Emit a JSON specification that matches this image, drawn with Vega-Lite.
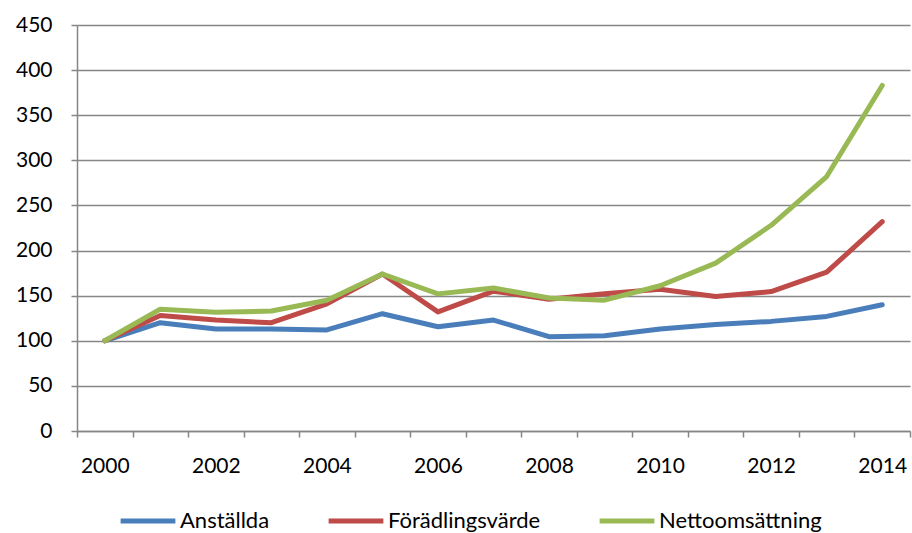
{
  "$schema": "https://vega.github.io/schema/vega-lite/v6.json",
  "width": 833,
  "height": 406,
  "autosize": {"type": "none"},
  "padding": {"left": 77, "top": 25, "right": 2, "bottom": 102},
  "background": "white",
  "data": {
    "values": [
      {"year": 2000, "series": "Anställda", "value": 100},
      {"year": 2001, "series": "Anställda", "value": 120},
      {"year": 2002, "series": "Anställda", "value": 113},
      {"year": 2003, "series": "Anställda", "value": 113},
      {"year": 2004, "series": "Anställda", "value": 112},
      {"year": 2005, "series": "Anställda", "value": 130},
      {"year": 2006, "series": "Anställda", "value": 115.5},
      {"year": 2007, "series": "Anställda", "value": 123},
      {"year": 2008, "series": "Anställda", "value": 104.5},
      {"year": 2009, "series": "Anställda", "value": 105.5},
      {"year": 2010, "series": "Anställda", "value": 113},
      {"year": 2011, "series": "Anställda", "value": 118},
      {"year": 2012, "series": "Anställda", "value": 121.5},
      {"year": 2013, "series": "Anställda", "value": 127},
      {"year": 2014, "series": "Anställda", "value": 140},
      {"year": 2000, "series": "Förädlingsvärde", "value": 100},
      {"year": 2001, "series": "Förädlingsvärde", "value": 128},
      {"year": 2002, "series": "Förädlingsvärde", "value": 123},
      {"year": 2003, "series": "Förädlingsvärde", "value": 120},
      {"year": 2004, "series": "Förädlingsvärde", "value": 141},
      {"year": 2005, "series": "Förädlingsvärde", "value": 174},
      {"year": 2006, "series": "Förädlingsvärde", "value": 132},
      {"year": 2007, "series": "Förädlingsvärde", "value": 155},
      {"year": 2008, "series": "Förädlingsvärde", "value": 146},
      {"year": 2009, "series": "Förädlingsvärde", "value": 152},
      {"year": 2010, "series": "Förädlingsvärde", "value": 157},
      {"year": 2011, "series": "Förädlingsvärde", "value": 149},
      {"year": 2012, "series": "Förädlingsvärde", "value": 154.5},
      {"year": 2013, "series": "Förädlingsvärde", "value": 176},
      {"year": 2014, "series": "Förädlingsvärde", "value": 232},
      {"year": 2000, "series": "Nettoomsättning", "value": 100},
      {"year": 2001, "series": "Nettoomsättning", "value": 135},
      {"year": 2002, "series": "Nettoomsättning", "value": 131.5},
      {"year": 2003, "series": "Nettoomsättning", "value": 133},
      {"year": 2004, "series": "Nettoomsättning", "value": 145},
      {"year": 2005, "series": "Nettoomsättning", "value": 174},
      {"year": 2006, "series": "Nettoomsättning", "value": 152},
      {"year": 2007, "series": "Nettoomsättning", "value": 158.5},
      {"year": 2008, "series": "Nettoomsättning", "value": 147.5},
      {"year": 2009, "series": "Nettoomsättning", "value": 145},
      {"year": 2010, "series": "Nettoomsättning", "value": 161},
      {"year": 2011, "series": "Nettoomsättning", "value": 186},
      {"year": 2012, "series": "Nettoomsättning", "value": 228},
      {"year": 2013, "series": "Nettoomsättning", "value": 282},
      {"year": 2014, "series": "Nettoomsättning", "value": 383}
    ]
  },
  "mark": {"type": "line", "strokeWidth": 5, "strokeCap": "round", "strokeJoin": "round"},
  "encoding": {
    "x": {
      "field": "year",
      "type": "ordinal",
      "scale": {"type": "band", "paddingInner": 0, "paddingOuter": 0},
      "axis": {
        "title": null,
        "labelAngle": 0,
        "tickBand": "extent",
        "labelExpr": "datum.value % 2 == 0 ? datum.label : ''",
        "grid": false,
        "domainColor": "#868686",
        "domainWidth": 1.5,
        "tickColor": "#868686",
        "tickWidth": 1.5,
        "tickSize": 6,
        "labelPadding": 18,
        "labelFont": "Lato",
        "labelFontSize": 21,
        "labelColor": "#000000"
      }
    },
    "y": {
      "field": "value",
      "type": "quantitative",
      "scale": {"domain": [0, 450], "nice": false},
      "axis": {
        "title": null,
        "values": [0, 50, 100, 150, 200, 250, 300, 350, 400, 450],
        "grid": true,
        "gridColor": "#868686",
        "gridWidth": 1.5,
        "domainColor": "#868686",
        "domainWidth": 1.5,
        "tickColor": "#868686",
        "tickWidth": 1.5,
        "tickSize": 6,
        "labelPadding": 19,
        "labelFont": "Lato",
        "labelFontSize": 21,
        "labelColor": "#000000"
      }
    },
    "color": {
      "field": "series",
      "type": "nominal",
      "scale": {
        "domain": ["Anställda", "Förädlingsvärde", "Nettoomsättning"],
        "range": ["#4a7ebb", "#be4b48", "#98b954"]
      },
      "legend": {
        "title": null,
        "orient": "none",
        "direction": "horizontal",
        "legendX": 41,
        "legendY": 466,
        "symbolType": "stroke",
        "symbolSize": 3000,
        "symbolStrokeWidth": 5,
        "labelFont": "Lato",
        "labelFontSize": 22,
        "labelColor": "#000000",
        "labelOffset": 2,
        "columnPadding": 48,
        "labelLimit": 300
      }
    }
  },
  "config": {"view": {"stroke": null}}
}
